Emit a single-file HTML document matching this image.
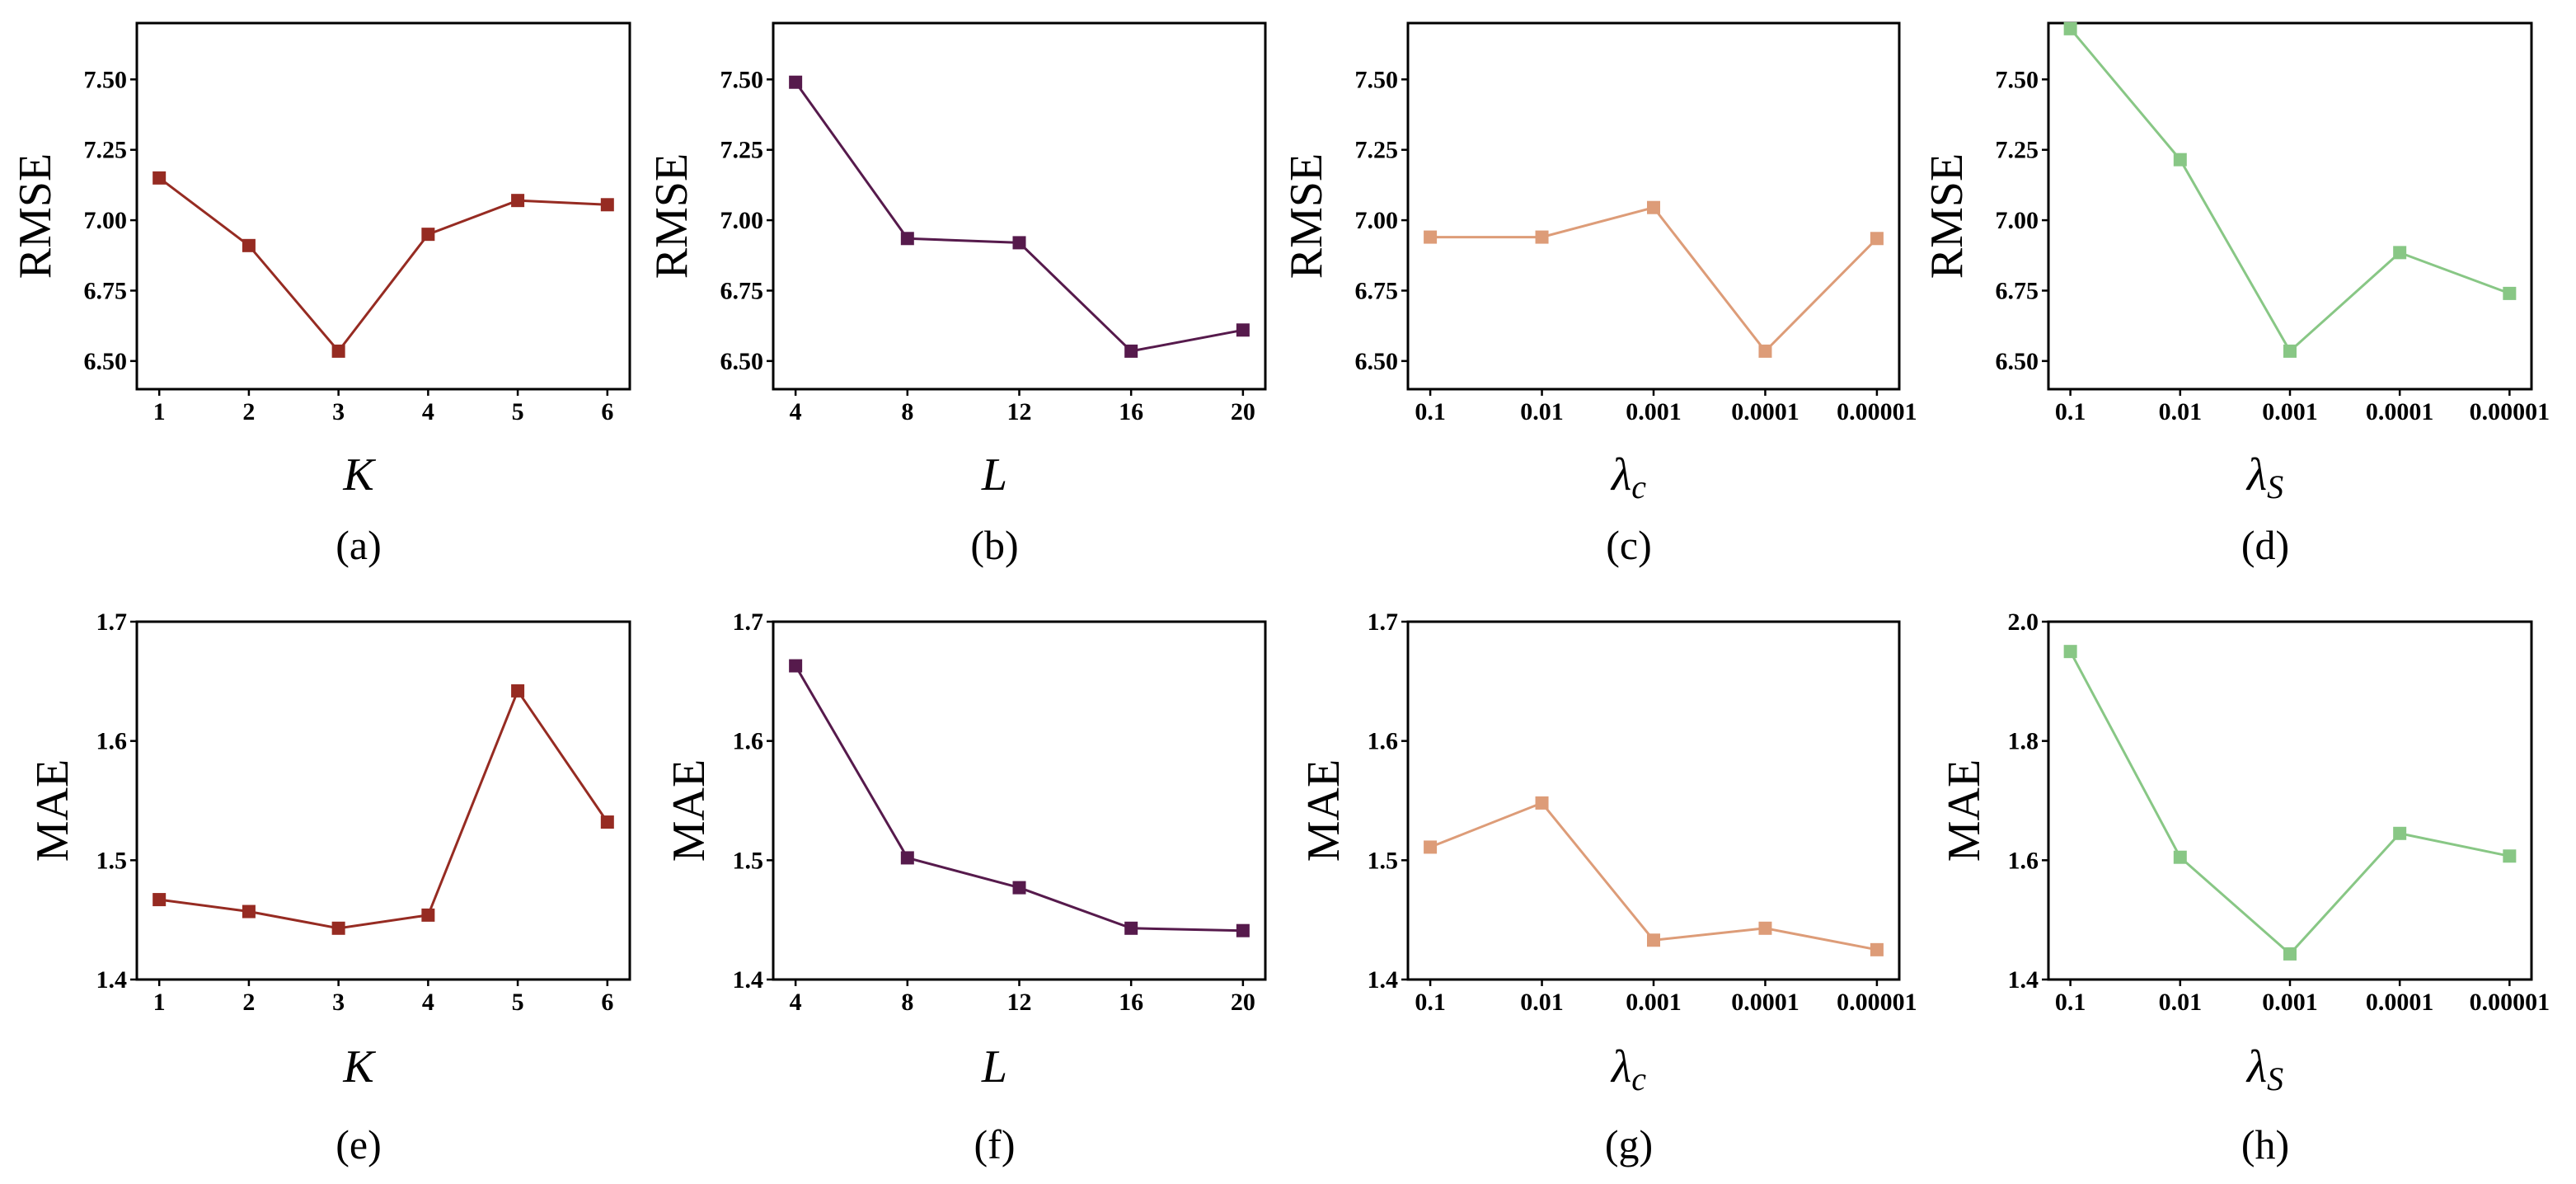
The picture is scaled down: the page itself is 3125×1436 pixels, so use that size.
<!DOCTYPE html>
<html><head><meta charset="utf-8"><style>
html,body{margin:0;padding:0;background:#fff}
svg{display:block}
text{font-family:"Liberation Serif",serif;fill:#000}
.tick{font-weight:bold;font-size:30px}
.ylab{font-size:56px}
.xlab{font-size:56px;font-style:italic}
.cap{font-size:50px}
</style></head><body>
<svg id="fig" width="3125" height="1436" viewBox="0 0 3125 1436" xmlns="http://www.w3.org/2000/svg"></svg>
<script>
const catsK=["1","2","3","4","5","6"];
const catsL=["4","8","12","16","20"];
const catsLam=["0.1","0.01","0.001","0.0001","0.00001"];
const rmseK=[7.15,6.91,6.535,6.95,7.07,7.055];
const rmseL=[7.49,6.935,6.92,6.535,6.61];
const rmseC=[6.94,6.94,7.045,6.535,6.935];
const rmseS=[7.68,7.215,6.535,6.885,6.74];
const maeK=[1.467,1.457,1.443,1.454,1.642,1.532];
const maeL=[1.663,1.502,1.477,1.443,1.441];
const maeC=[1.511,1.548,1.433,1.443,1.425];
const maeS=[1.95,1.605,1.443,1.645,1.607];
const rmseTicks=["6.50","6.75","7.00","7.25","7.50"];
const maeTicks=["1.4","1.5","1.6","1.7"];
const maeTicksH=["1.4","1.6","1.8","2.0"];

const NS="http://www.w3.org/2000/svg";
const svg=document.getElementById('fig');
function mk(tag,attrs,parent){const e=document.createElementNS(NS,tag);for(const k in attrs)e.setAttribute(k,attrs[k]);(parent||svg).appendChild(e);return e;}

const lefts=[166,938,1708,2485], widths=[598,597,596,586];
const rows=[{top:28,bottom:472,ylab:"RMSE",ylOff:125,tickBase:509,xlBase:594,capBase:678},
            {top:754,bottom:1188,ylab:"MAE",ylOff:104,tickBase:1225,xlBase:1312,capBase:1405}];
const colors=["#962b22","#561a4c","#dd9c78","#88c785"];
const panels=[
 {r:0,c:0,cats:catsK,vals:rmseK,ymin:6.4,ymax:7.7,ticks:rmseTicks,xl:"K",cap:"(a)"},
 {r:0,c:1,cats:catsL,vals:rmseL,ymin:6.4,ymax:7.7,ticks:rmseTicks,xl:"L",cap:"(b)"},
 {r:0,c:2,cats:catsLam,vals:rmseC,ymin:6.4,ymax:7.7,ticks:rmseTicks,xl:"c",cap:"(c)"},
 {r:0,c:3,cats:catsLam,vals:rmseS,ymin:6.4,ymax:7.7,ticks:rmseTicks,xl:"S",cap:"(d)"},
 {r:1,c:0,cats:catsK,vals:maeK,ymin:1.4,ymax:1.7,ticks:maeTicks,xl:"K",cap:"(e)"},
 {r:1,c:1,cats:catsL,vals:maeL,ymin:1.4,ymax:1.7,ticks:maeTicks,xl:"L",cap:"(f)"},
 {r:1,c:2,cats:catsLam,vals:maeC,ymin:1.4,ymax:1.7,ticks:maeTicks,xl:"c",cap:"(g)"},
 {r:1,c:3,cats:catsLam,vals:maeS,ymin:1.4,ymax:2.0,ticks:maeTicksH,xl:"S",cap:"(h)"}
];
panels.forEach(p=>{
  const R=rows[p.r], L=lefts[p.c], W=widths[p.c], T=R.top, B=R.bottom;
  const g=mk('g',{});
  
  
  const n=p.cats.length;
  const xs=i=>L+W*(0.05*(n-1)+i)/(1.1*(n-1));
  const ys=v=>B-(v-p.ymin)/(p.ymax-p.ymin)*(B-T);
  const color=colors[p.c];
  // frame
  const fr=mk('rect',{x:L,y:T,width:W,height:B-T,fill:'none',stroke:'#000','stroke-width':3},g);
  
  
  // y ticks
  p.ticks.forEach(t=>{
    const y=ys(parseFloat(t));
    mk('line',{x1:L-8,x2:L,y1:y,y2:y,stroke:'#000','stroke-width':2.5},g);
    const tx=mk('text',{x:L-12,y:y+10,'text-anchor':'end',class:'tick'},g);
    tx.textContent=t;
    
    
  });
  // x ticks
  p.cats.forEach((c,i)=>{
    const x=xs(i);
    mk('line',{x1:x,x2:x,y1:B,y2:B+8,stroke:'#000','stroke-width':2.5},g);
    const tx=mk('text',{x:x,y:R.tickBase,'text-anchor':'middle',class:'tick'},g);
    tx.textContent=c;
    
    
  });
  // line
  const pts=p.vals.map((v,i)=>xs(i).toFixed(1)+','+ys(v).toFixed(1)).join(' ');
  const pl=mk('polyline',{points:pts,fill:'none',stroke:color,'stroke-width':3},g);
  
  
  p.vals.forEach((v,i)=>{
    const m=mk('rect',{x:xs(i)-8,y:ys(v)-8,width:16,height:16,fill:color},g);
    
    
  });
  // y label
  const cy=(T+B)/2+12, cx=L-R.ylOff;
  const yl=mk('text',{x:cx,y:cy,'text-anchor':'middle',class:'ylab',transform:`rotate(-90 ${cx} ${cy}) translate(0 20)`},g);
  yl.textContent=R.ylab;
  
  
  // x label
  const xc=L+W/2-30;
  const xl=mk('text',{x:xc,y:R.xlBase,'text-anchor':'middle',class:'xlab'},g);
  if(p.xl==='K'||p.xl==='L'){xl.textContent=p.xl;}
  else{
    const a=mk('tspan',{},xl);a.textContent='λ';
    const b=mk('tspan',{'font-size':'40px',dy:'10'},xl);b.textContent=p.xl==='c'?'c':'S';
  }
  
  
  const cp=mk('text',{x:xc,y:R.capBase,'text-anchor':'middle',class:'cap'},g);
  cp.textContent=p.cap;
  
  
});
</script>
</body></html>
